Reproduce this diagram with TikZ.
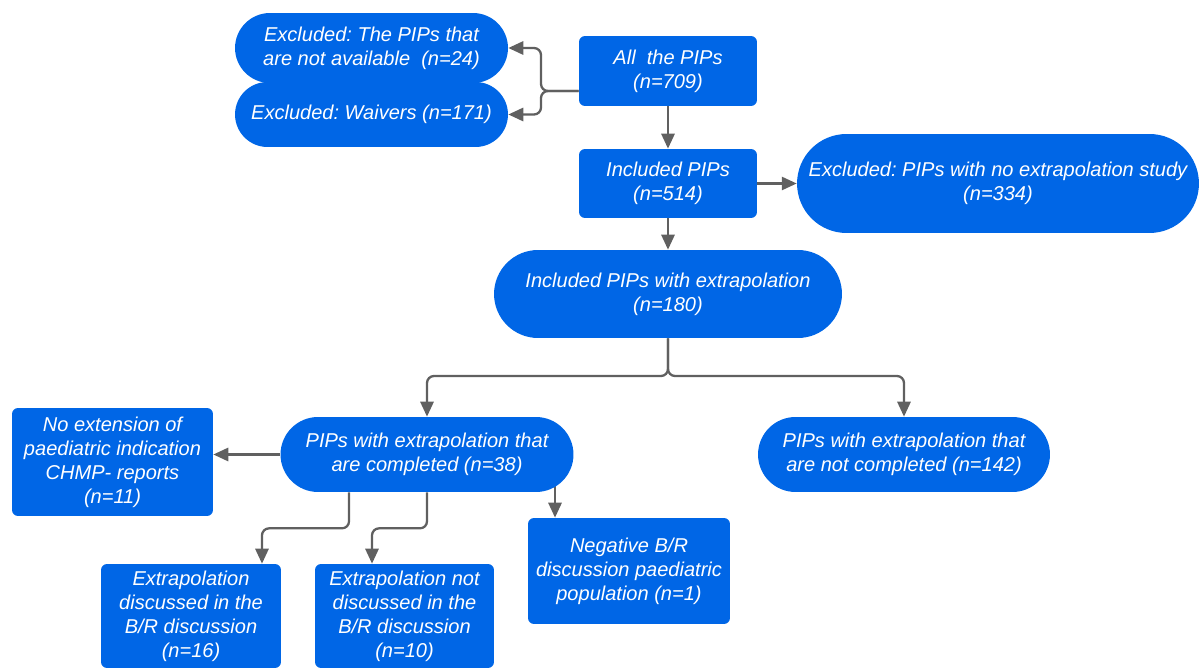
\documentclass[tikz,border=0pt]{standalone}
\usepackage{fontspec}
\setmainfont{Liberation Sans}
\usetikzlibrary{arrows.meta}
\definecolor{boxblue}{RGB}{0,102,230}
\definecolor{arrgray}{RGB}{96,96,96}
\pgfdeclarelayer{bg}
\pgfsetlayers{bg,main}
\frenchspacing
\begin{document}
\begin{tikzpicture}[x=0.02cm,y=-0.02cm,
  txt/.style={text=white,font=\fontsize{11.4}{13.7}\selectfont\itshape,align=center,inner sep=0pt},
  rbox/.style={txt,fill=boxblue,draw=none,rounded corners=0.12cm},
  pill/.style={txt,fill=boxblue,draw=none,rounded corners=#1},
  arr/.style={draw=arrgray,line width=1.3pt,-{Triangle[length=8.5pt,width=7.5pt]},rounded corners=4pt}]
\useasboundingbox (0,0) rectangle (1201,668);

\node[rbox,minimum width=3.56cm,minimum height=1.4cm] (A) at (668,71) {All\ \ the PIPs\\(n=709)};
\node[pill=0.7cm,minimum width=5.46cm,minimum height=1.4cm] (E1) at (371.5,48) {Excluded: The PIPs that\\are not available\ \ (n=24)};
\node[pill=0.65cm,minimum width=5.46cm,minimum height=1.3cm] (E2) at (371.5,114.5) {Excluded: Waivers (n=171)};
\node[rbox,minimum width=3.56cm,minimum height=1.38cm] (B) at (668,183.5) {Included PIPs\\(n=514)};
\node[pill=0.99cm,minimum width=8.04cm,minimum height=1.98cm] (C) at (998,183.5) {Excluded: PIPs with no extrapolation study\\(n=334)};
\node[pill=0.88cm,minimum width=6.96cm,minimum height=1.76cm] (D) at (668,294) {Included PIPs with extrapolation\\(n=180)};
\node[pill=0.75cm,minimum width=5.86cm,minimum height=1.5cm] (F) at (427,454.5) {PIPs with extrapolation that\\are completed (n=38)};
\node[pill=0.75cm,minimum width=5.84cm,minimum height=1.5cm] (G) at (904,454.5) {PIPs with extrapolation that\\are not completed (n=142)};
\node[rbox,minimum width=4.02cm,minimum height=2.16cm] (H) at (112.5,462) {No extension of\\paediatric indication\\CHMP- reports\\(n=11)};
\node[rbox,minimum width=3.6cm,minimum height=2.08cm] (I) at (191,616) {Extrapolation\\discussed in the\\B/R discussion\\(n=16)};
\node[rbox,minimum width=3.58cm,minimum height=2.08cm] (J) at (404.5,616) {Extrapolation not\\discussed in the\\B/R discussion\\(n=10)};
\node[rbox,minimum width=4.04cm,minimum height=2.12cm] (K) at (629,571) {Negative B/R\\discussion paediatric\\population (n=1)};

\coordinate (Aj) at (541,91);
\coordinate (Dj) at (668,376);
\coordinate (IT) at ([xshift=1.42cm]I.north);
\coordinate (JT) at ([xshift=-0.65cm]J.north);
\coordinate (KT) at ([xshift=-1.48cm]K.north);

\begin{pgfonlayer}{bg}
\draw[arr] ([yshift=-0.4cm]A.west) -- (Aj) |- (E1.east);
\draw[arr] ([yshift=-0.4cm]A.west) -- (Aj) |- (E2.east);
\draw[arr] (A.south) -- (B.north);
\draw[arr] (B.east) -- (C.west);
\draw[arr] (B.south) -- (D.north);
\draw[arr] (D.south) -- (Dj) -| (F.north);
\draw[arr] (D.south) -- (Dj) -| (G.north);
\draw[arr] (F.west) -- (F.west -| H.east);
\draw[arr] ([xshift=-1.56cm]F.south) -- ++(0,-0.72cm) -| (IT);
\draw[arr] (F.south) -- ++(0,-0.72cm) -| (JT);
\draw[arr] (KT |- F.center) -- (KT);
\end{pgfonlayer}
\end{tikzpicture}
\end{document}
